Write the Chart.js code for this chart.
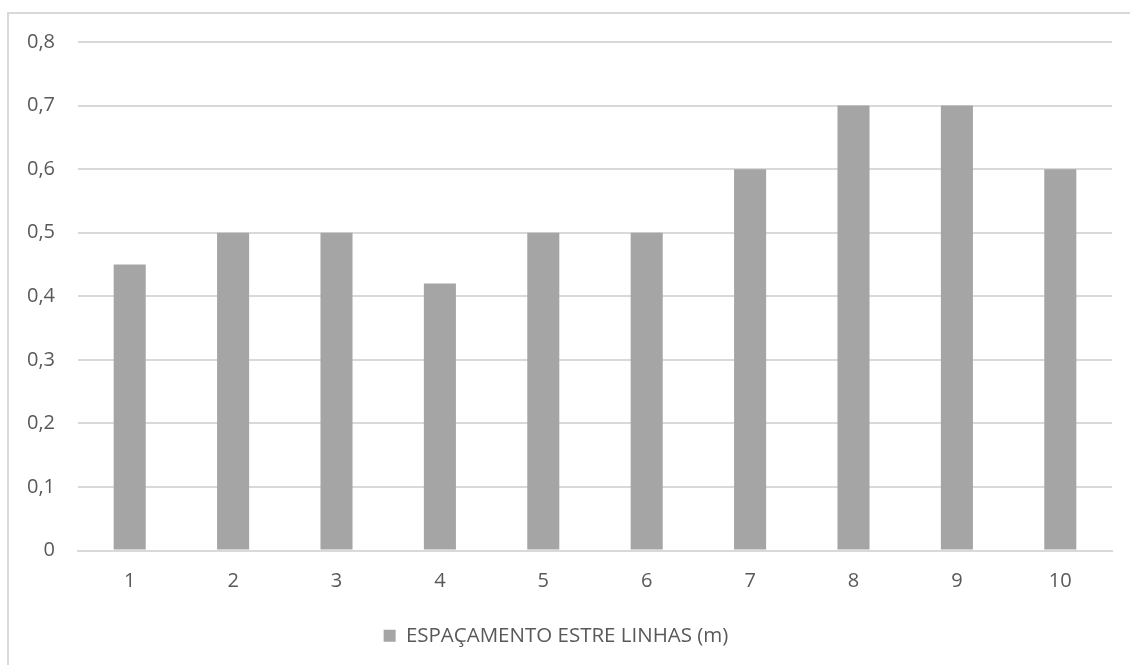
<!DOCTYPE html>
<html>
<head>
<meta charset="utf-8">
<script src="https://cdn.jsdelivr.net/npm/chart.js@4/dist/chart.umd.min.js"></script>
<style>
  html, body { margin: 0; padding: 0; background: #fff; }
  #wrap { position: relative; width: 1130px; height: 665px; overflow: hidden; }
  #frame { position: absolute; left: 7px; top: 12px; width: 1200px; height: 700px;
           border-left: 2px solid #d9d9d9; border-top: 2px solid #d9d9d9; }
  canvas { position: absolute; left: 0; top: 0; }
</style>
</head>
<body>
<div id="wrap">
  <div id="frame"></div>
  <canvas id="c" width="1130" height="665"></canvas>
</div>
<script>
const categories = ['1', '2', '3', '4', '5', '6', '7', '8', '9', '10'];
const espacamento = [0.45, 0.5, 0.5, 0.42, 0.5, 0.5, 0.6, 0.7, 0.7, 0.6];
const seriesLabel = 'ESPAÇAMENTO ESTRE LINHAS (m)';

const textColor = '#595959';
const gridColor = '#d9d9d9';
const barColor = '#a5a5a5';
const fontFamily = '"Open Sans", Lato, sans-serif';

new Chart(document.getElementById('c'), {
  type: 'bar',
  data: {
    labels: categories,
    datasets: [{
      label: seriesLabel,
      data: espacamento,
      backgroundColor: barColor,
      borderWidth: 0,
      categoryPercentage: 1,
      barPercentage: 0.31
    }]
  },
  options: {
    responsive: false,
    animation: false,
    layout: { padding: { left: 0, right: 18, top: 42, bottom: 9 } },
    plugins: {
      tooltip: { enabled: false },
      legend: {
        position: 'bottom',
        labels: {
          color: textColor,
          font: { family: fontFamily, size: 20.5 },
          boxWidth: 12,
          boxHeight: 12,
          padding: 8
        }
      }
    },
    scales: {
      x: {
        grid: { display: false, drawTicks: false },
        border: { display: true, color: gridColor, width: 2 },
        ticks: { color: textColor, font: { family: fontFamily, size: 20 }, padding: 19 },
        afterFit(scale) { scale.height = 67; }
      },
      y: {
        min: 0,
        max: 0.8,
        grid: { color: gridColor, lineWidth: 2, drawTicks: false },
        border: { display: false },
        ticks: {
          stepSize: 0.1,
          color: textColor,
          font: { family: fontFamily, size: 20 },
          padding: 23,
          callback: v => (Math.round(v * 10) / 10).toString().replace('.', ',')
        },
        afterFit(scale) { scale.width = 78; }
      }
    }
  }
});
</script>
</body>
</html>
